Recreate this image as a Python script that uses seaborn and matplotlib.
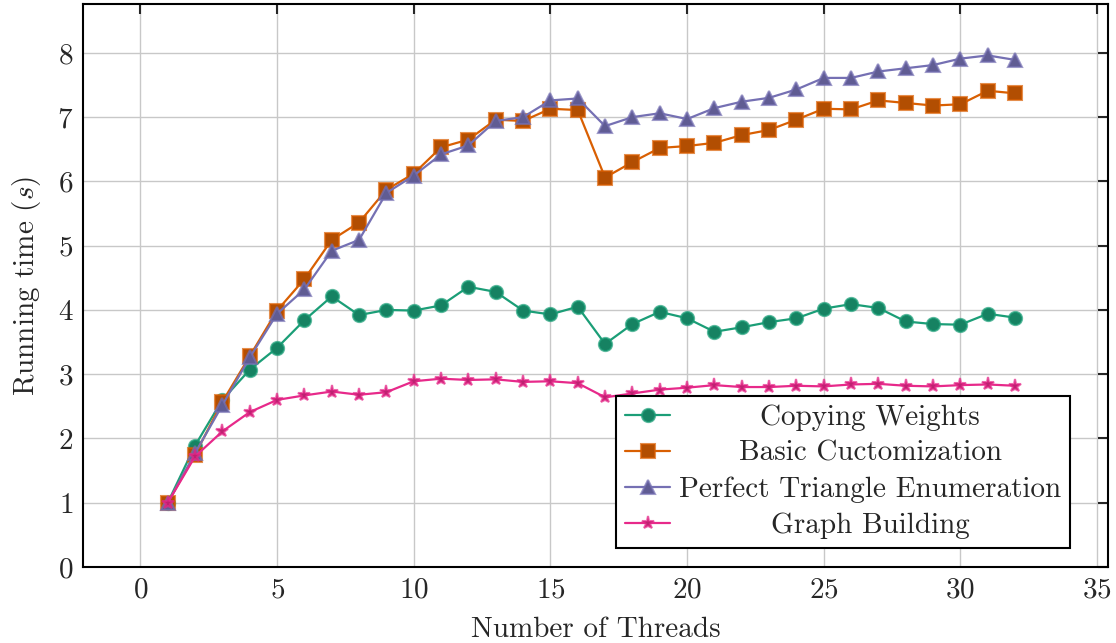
import matplotlib
matplotlib.use("Agg")
import matplotlib.pyplot as plt
import matplotlib.colors as mcolors
import numpy as np
import pandas as pd
import seaborn as sb

threads = list(range(1, 33))

copying_weights = [1.00, 1.89, 2.60, 3.07, 3.41, 3.84, 4.21, 3.92, 4.00, 3.99,
                   4.07, 4.36, 4.28, 3.99, 3.93, 4.05, 3.47, 3.78, 3.97, 3.87,
                   3.66, 3.73, 3.81, 3.87, 4.02, 4.09, 4.03, 3.82, 3.78, 3.77,
                   3.94, 3.88]
basic_customization = [1.00, 1.75, 2.57, 3.28, 3.99, 4.48, 5.09, 5.36, 5.87, 6.12,
                       6.53, 6.65, 6.96, 6.94, 7.13, 7.11, 6.06, 6.30, 6.52, 6.55,
                       6.60, 6.72, 6.80, 6.96, 7.13, 7.12, 7.26, 7.22, 7.18, 7.20,
                       7.41, 7.37]
triangle_enum = [1.00, 1.77, 2.52, 3.26, 3.94, 4.32, 4.92, 5.09, 5.82, 6.09,
                 6.42, 6.56, 6.94, 7.00, 7.26, 7.29, 6.86, 7.00, 7.06, 6.97,
                 7.14, 7.24, 7.30, 7.43, 7.61, 7.61, 7.71, 7.76, 7.81, 7.91,
                 7.96, 7.89]
graph_building = [1.00, 1.72, 2.11, 2.41, 2.60, 2.67, 2.73, 2.68, 2.72, 2.89,
                  2.93, 2.91, 2.92, 2.88, 2.89, 2.86, 2.64, 2.70, 2.76, 2.79,
                  2.83, 2.80, 2.80, 2.82, 2.81, 2.84, 2.85, 2.82, 2.81, 2.83,
                  2.84, 2.82]

series_names = ["Copying Weights", "Basic Cuctomization",
                "Perfect Triangle Enumeration", "Graph Building"]
series_values = [copying_weights, basic_customization, triangle_enum, graph_building]
colors = ["#1b9e77", "#d95f02", "#7570b3", "#e7298a"]
markers = ["o", "s", "^", "*"]
marker_sizes = [9.5, 9.5, 9.5, 9.5]

df = pd.concat([pd.DataFrame({"threads": threads, "time": v, "series": n})
                for n, v in zip(series_names, series_values)], ignore_index=True)

sb.set_style("white")
plt.rcParams["font.family"] = ["cmr10", "DejaVu Serif"]
plt.rcParams["mathtext.fontset"] = "cm"
plt.rcParams["axes.formatter.use_mathtext"] = True
plt.rcParams["font.size"] = 21

fig = plt.figure(figsize=(11.16, 6.43), dpi=100)
ax = fig.add_axes([83 / 1116, 1 - 567 / 643, 1025 / 1116, 563 / 643])

sb.lineplot(data=df, x="threads", y="time", hue="series", style="series",
            hue_order=series_names, style_order=series_names,
            palette=colors, markers=markers, dashes=False, legend=False,
            linewidth=1.6, ax=ax)

for line, c, ms in zip(ax.lines, colors, marker_sizes):
    rgb = np.array(mcolors.to_rgb(c))
    line.set_markersize(ms)
    line.set_markerfacecolor(tuple(rgb * 0.82))
    line.set_markeredgecolor(tuple(rgb) + (0.7,))
    line.set_markeredgewidth(1.5)

ax.set_xlim(-2.1, 35.4)
ax.set_ylim(0, 8.76)
ax.set_xticks(range(0, 36, 5))
ax.set_yticks(range(0, 9))
ax.set_xlabel("Number of Threads", labelpad=10)
ax.set_ylabel("Running time ($s$)", labelpad=10)
ax.grid(True, color="#c8c8c8", linewidth=1.0)
ax.set_axisbelow(True)
for s in ax.spines.values():
    s.set_linewidth(1.5)
    s.set_color("black")
ax.tick_params(direction="in", length=7, width=1.5, top=True, right=True,
               labelsize=21, pad=7)

leg = ax.legend(handles=ax.lines[:4], labels=series_names, loc="lower right",
                bbox_to_anchor=(0.963, 0.034), borderaxespad=0, fancybox=False,
                framealpha=1, edgecolor="black", fontsize=21, handlelength=1.55,
                handletextpad=0.3, labelspacing=0.33, borderpad=0.3)
leg.get_frame().set_linewidth(1.5)

# center the legend labels in their column
fig.canvas.draw()
renderer = fig.canvas.get_renderer()
widths = [t.get_window_extent(renderer).width for t in leg.get_texts()]
wmax = max(widths)
rows = [r for col in leg._legend_handle_box.get_children() for r in col.get_children()]
for row, w in zip(rows, widths):
    row.sep = row.sep + (wmax - w) / 2 * 72 / fig.dpi

fig.savefig("out.png", dpi=100)
